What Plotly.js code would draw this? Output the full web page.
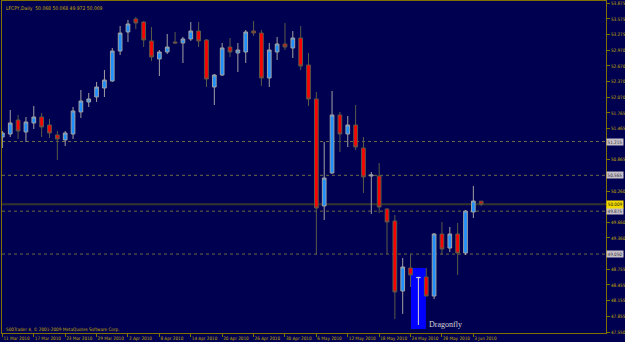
<!DOCTYPE html>
<html><head><meta charset="utf-8">
<script src="https://cdn.plot.ly/plotly-3.0.1.min.js"></script>
<style>html,body{margin:0;padding:0;background:#000050;overflow:hidden}#chart{width:625px;height:342px;}</style>
</head><body><div id="chart"></div>
<script>
const opens  = [51.302,51.360,51.629,51.399,51.572,51.687,51.533,51.341,51.245,51.360,
                51.784,51.976,52.072,52.245,52.380,52.957,53.323,53.573,53.515,53.150,
                52.803,52.938,53.130,53.111,53.188,53.342,53.169,52.264,52.495,53.034,
                52.919,52.938,53.342,53.303,52.438,52.938,53.092,53.015,53.207,52.688,
                52.034,49.975,50.610,51.726,51.360,51.533,51.091,50.552,50.552,49.917,
                49.686,48.339,48.782,48.595,48.609,48.243,49.436,49.166,49.436,49.070,
                49.859,50.068];
const highs  = [51.418,51.822,51.726,51.687,51.899,51.764,51.649,51.418,51.418,51.880,
                52.207,52.149,52.361,52.592,53.015,53.438,53.554,53.611,53.534,53.419,
                52.976,53.284,53.323,53.227,53.515,53.515,53.188,52.515,53.111,53.207,
                53.111,53.361,53.534,53.361,53.111,53.227,53.496,53.342,53.438,52.919,
                52.168,51.206,52.188,51.784,51.706,51.918,51.302,50.629,50.802,49.936,
                49.802,48.974,49.051,48.609,48.782,49.455,49.667,49.571,49.648,49.897,
                50.360,50.068];
const lows   = [51.091,51.302,51.264,51.206,51.456,51.302,51.283,50.860,51.129,51.264,
                51.668,51.880,51.976,52.072,52.361,52.880,53.130,53.380,53.034,52.765,
                52.476,52.899,53.092,52.726,53.150,53.034,52.264,51.918,52.476,52.842,
                52.553,52.726,53.246,52.284,52.264,52.784,52.976,52.822,52.592,51.899,
                49.032,49.705,50.590,51.014,51.110,51.052,50.225,49.821,49.840,49.051,
                47.800,47.897,48.416,47.685,48.243,48.185,49.032,49.089,48.647,49.032,
                49.744,49.972];
const closes = [51.379,51.572,51.418,51.591,51.687,51.495,51.379,51.264,51.379,51.803,
                51.995,52.034,52.264,52.399,52.957,53.303,53.477,53.496,53.169,52.842,
                52.938,53.034,53.111,53.188,53.342,53.150,52.418,52.495,53.015,52.938,
                52.976,53.323,53.303,52.438,52.976,53.092,53.034,53.207,52.669,52.034,
                49.936,50.513,51.726,51.360,51.533,51.110,50.533,50.571,49.955,49.667,
                48.320,48.801,48.647,48.600,48.243,49.436,49.147,49.436,49.070,49.878,
                50.071,50.009];

const dateLabelIdx = [0,4,8,12,16,20,24,28,32,36,40,44,48,52,56,60];
const dateLabels = ['11 Mar 2010','17 Mar 2010','23 Mar 2010','29 Mar 2010','2 Apr 2010','8 Apr 2010',
                    '14 Apr 2010','20 Apr 2010','26 Apr 2010','30 Apr 2010','6 May 2010','12 May 2010',
                    '18 May 2010','24 May 2010','28 May 2010','3 Jun 2010'];
const priceTicks = [53.875,53.575,53.275,52.970,52.670,52.370,52.070,51.765,51.465,51.165,50.865,
                    50.560,50.260,49.960,49.660,49.360,49.055,48.755,48.455,48.155,47.855,47.550];
// labels hidden behind the price-level boxes in the reference are left blank
const priceTickText = ['53.875','53.575','53.275','52.970','52.670','52.370','52.070','51.765','51.465',
                       '','50.865','','50.260','','49.660','49.360','','48.755',
                       '48.455','48.155','47.855','47.550'];
const levelPrices = [51.215, 50.565, 49.875, 49.050];
const levelLabels = ['51.215','50.565','49.875','49.050'];
const bidPrice = 50.009;
const bidLabel = '50.009';
const dragonflyIdx = 53;
const dragonflyLabel = 'Dragonfly';
const titleText = 'LFCPY,Daily  50.068 50.068 49.972 50.009';
const copyrightText = '500Trader 4, \u00a9 2001-2009 MetaQuotes Software Corp.';

const allIdx = opens.map((_, i) => i);
const mainIdx = allIdx.filter(i => i !== dragonflyIdx);
const pick = (arr, ids) => ids.map(i => arr[i]);

const gold = '#c8b000';
const olive = '#807000';
const tinyFont = {family: 'DejaVu Sans Condensed, DejaVu Sans, Arial', size: 4.6, color: gold};

const main = {
  type: 'candlestick',
  x: mainIdx, open: pick(opens, mainIdx), high: pick(highs, mainIdx),
  low: pick(lows, mainIdx), close: pick(closes, mainIdx),
  increasing: {line: {color: '#a0a0a0', width: 1}, fillcolor: '#1e90ff'},
  decreasing: {line: {color: '#5a5a48', width: 1}, fillcolor: '#ff0000'},
  whiskerwidth: 0, hoverinfo: 'none'
};
const doji = {
  type: 'candlestick',
  x: [dragonflyIdx], open: [opens[dragonflyIdx]], high: [highs[dragonflyIdx]],
  low: [lows[dragonflyIdx]], close: [closes[dragonflyIdx]],
  increasing: {line: {color: '#d0d0d0', width: 1}, fillcolor: '#d0d0d0'},
  decreasing: {line: {color: '#d0d0d0', width: 1}, fillcolor: '#d0d0d0'},
  whiskerwidth: 0, hoverinfo: 'none'
};

const shapes = [];
shapes.push({type: 'rect', xref: 'x', yref: 'y', x0: dragonflyIdx - 0.95, x1: dragonflyIdx + 0.95,
             y0: 47.608, y1: 48.782, fillcolor: '#0000ff', line: {width: 0}, layer: 'below'});
levelPrices.forEach(p => shapes.push({type: 'line', xref: 'paper', x0: 0, x1: 1, yref: 'y', y0: p, y1: p,
             line: {color: '#6e6a40', width: 1, dash: 'dot'}, layer: 'below'}));
shapes.push({type: 'line', xref: 'paper', x0: 0, x1: 1, yref: 'y', y0: bidPrice, y1: bidPrice,
             line: {color: '#34342c', width: 2}, layer: 'below'});

const annotations = [];
annotations.push({xref: 'paper', yref: 'paper', x: 0.003, y: 0.993, xanchor: 'left', yanchor: 'top',
                  text: titleText, showarrow: false, font: {family: 'DejaVu Sans Condensed, DejaVu Sans', size: 5, color: gold}});
annotations.push({xref: 'paper', yref: 'paper', x: 0.003, y: 0.012, xanchor: 'left', yanchor: 'middle',
                  text: copyrightText, showarrow: false, font: {family: 'DejaVu Sans Condensed, DejaVu Sans', size: 4.6, color: gold}});
annotations.push({xref: 'x', yref: 'y', x: dragonflyIdx + 1.08, y: 47.704, xanchor: 'left', yanchor: 'middle',
                  text: dragonflyLabel, showarrow: false, font: {family: 'Liberation Serif, DejaVu Serif, serif', size: 8, color: '#d8d8d8'}});
levelPrices.forEach((p, i) => annotations.push({xref: 'paper', yref: 'y', x: 1, y: p, xanchor: 'left', yanchor: 'middle',
                  text: levelLabels[i], showarrow: false, bgcolor: '#c8c0c8', borderpad: 0.5,
                  font: {family: 'DejaVu Sans Condensed, DejaVu Sans', size: 4.6, color: '#303040'}}));
annotations.push({xref: 'paper', yref: 'y', x: 1, y: bidPrice, xanchor: 'left', yanchor: 'middle',
                  text: bidLabel, showarrow: false, bgcolor: '#f0d800', borderpad: 0.8,
                  font: {family: 'DejaVu Sans Condensed, DejaVu Sans', size: 4.6, color: '#202000'}});

const layout = {
  width: 625, height: 342,
  margin: {l: 2, r: 19, t: 1, b: 9, pad: 0},
  paper_bgcolor: '#000050', plot_bgcolor: '#000050',
  showlegend: false, boxgap: 0.33,
  xaxis: {range: [-0.05, 76.9], type: 'linear', tickvals: dateLabelIdx, ticktext: dateLabels,
          ticks: 'outside', ticklen: 3, tickcolor: olive, tickwidth: 1, tickangle: 0,
          ticklabelposition: 'outside right', tickfont: tinyFont, ticklabelstandoff: 0,
          showline: true, mirror: true, linecolor: olive, linewidth: 1,
          showgrid: false, zeroline: false, rangeslider: {visible: false}, fixedrange: true},
  yaxis: {range: [47.531, 53.919], side: 'right', tickvals: priceTicks, ticktext: priceTickText,
          ticks: 'outside', ticklen: 3, tickcolor: olive, tickwidth: 1, tickfont: tinyFont,
          showline: true, mirror: true, linecolor: olive, linewidth: 1,
          showgrid: false, zeroline: false, fixedrange: true},
  shapes: shapes, annotations: annotations
};
Plotly.newPlot('chart', [main, doji], layout, {staticPlot: true, displayModeBar: false});
</script></body></html>
